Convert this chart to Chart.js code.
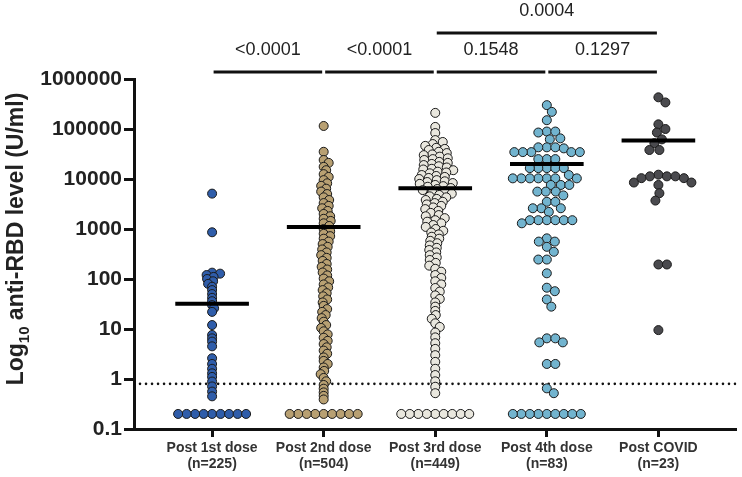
<!DOCTYPE html>
<html>
<head>
<meta charset="utf-8">
<title>anti-RBD levels</title>
<style>
  html, body { margin: 0; padding: 0; background: #fff; }
</style>
</head>
<body>
<canvas id="myChart" width="742" height="477"></canvas>
<script src="https://cdn.jsdelivr.net/npm/chart.js"></script>
<script>
const categories = ['Post 1st dose', 'Post 2nd dose', 'Post 3rd dose', 'Post 4th dose', 'Post COVID'];
const counts = [225, 504, 449, 83, 23];

// values (U/ml); 0.2 = below detection row
const firstDose = [5100, 860, 134, 128, 120, 110, 100, 90, 80, 70, 60, 50, 42, 36, 30, 26, 22,
  12, 7.6, 6.5, 5.6, 4.5, 2.6, 2.0, 1.6, 1.3, 1.1, 0.89, 0.71, 0.56, 0.45,
  0.2, 0.2, 0.2, 0.2, 0.2, 0.2, 0.2, 0.2, 0.2];
const secondDose = [115000, 35000, 24000, 21000, 17500, 15000, 12500, 11000, 9500, 8200, 7300, 6400,
  5600, 5000, 4300, 3800, 3300, 2900, 2600, 2300, 2000, 1800, 1600, 1450, 1300, 1150, 1000, 900,
  800, 720, 640, 560, 500, 440, 390, 340, 300, 265, 230, 200, 175, 155, 135, 118, 102, 90, 78,
  68, 60, 52, 45, 39, 34, 29, 25, 22, 19, 16.5, 14, 12, 10.5, 9, 7.8, 6.7, 5.8, 5, 4.3, 3.7,
  3.2, 2.7, 2.3, 2.0, 1.7, 1.45, 1.25, 1.05, 0.9, 0.76, 0.64, 0.54, 0.46, 0.39,
  0.2, 0.2, 0.2, 0.2, 0.2, 0.2, 0.2, 0.2, 0.2];
const thirdDose = [210000, 110000, 83000, 60000, 55000, 50000, 46000, 42000, 40000, 38000, 35000,
  33000, 31000, 30000, 28000, 26000, 25000, 24000, 22000, 21000, 20000, 19000, 18000, 17000,
  16000, 15500, 15000, 14000, 13500, 13000, 12000, 11500, 11000, 10500, 10000, 9500, 9000, 8700,
  8300, 8000, 7600, 7200, 7000, 6600, 6300, 6000, 5700, 5400, 5100, 4800, 4500, 4300, 4000,
  3800, 3500, 3300, 3100, 2900, 2700, 2500, 2300, 2100, 1900, 1800, 1650, 1500, 1400, 1300,
  1200, 1100, 1000, 920, 850, 780, 700, 640, 580, 520, 470, 420, 380, 340, 300, 270, 240, 210,
  185, 160, 140, 120, 105, 90, 78, 66, 56, 47, 40, 34, 28, 23, 19, 16, 13, 11, 8.5, 6.8, 5.2,
  4.0, 3.0, 2.2, 1.6, 1.2, 0.9, 0.7, 0.52,
  0.2, 0.2, 0.2, 0.2, 0.2, 0.2, 0.2, 0.2, 0.2];
const fourthDose = [300000, 220000, 150000, 89000, 89000, 85000, 65000, 62000,
  43000, 43000, 43000, 41000, 34500, 34500, 34500, 34500, 34500, 25000, 25000, 25000,
  16500, 16500, 16500, 16500, 16500, 12000, 10300, 10300, 10300, 10300, 10300, 10300, 10300,
  7600, 7600, 7600, 5600, 5600, 5600, 4700, 3500, 3500, 2600, 2600, 2600, 2200,
  1500, 1500, 1500, 1500, 1500, 1500, 1300, 650, 560, 560, 440, 350, 245, 245, 130,
  67, 57, 39, 28, 6.5, 6.5, 5.4, 5.4, 2.0, 2.0, 0.65, 0.52,
  0.2, 0.2, 0.2, 0.2, 0.2, 0.2, 0.2, 0.2, 0.2];
const postCovid = [430000, 340000, 124000, 100000, 85000, 62000, 52000, 38000, 38000,
  12200, 11300, 11300, 11300, 10400, 10400, 8500, 8500, 7600, 5200, 3700, 195, 195, 9.5];

const geoMeans = [32, 1100, 6500, 20000, 59000];
const cutoff = 0.8;

const yTicks = [0.1, 1, 10, 100, 1000, 10000, 100000, 1000000];
const yTickLabels = ['0.1', '1', '10', '100', '1000', '10000', '100000', '1000000'];

const pFrom = [0, 1, 2, 3, 2];
const pTo = [1, 2, 3, 4, 4];
const pLabels = ['<0.0001', '<0.0001', '0.1548', '0.1297', '0.0004'];

const fills = ['#2f5daa', '#b8a072', '#e9e7de', '#72b4cf', '#4a4a4e'];
const groups = [firstDose, secondDose, thirdDose, fourthDose, postCovid];
const squeeze = [2.6, 2.4, 2, 1, 1]; // dense columns are allowed to overlap vertically

const xMin = -0.7, xMax = 4.7;

Chart.defaults.font.family = "'Liberation Sans', Arial, sans-serif";

const datasets = groups.map((vals, g) => ({
    type: 'scatter',
    data: vals.map(v => ({x: g, y: v})),
    backgroundColor: fills[g],
    borderColor: '#1a1a1a',
    borderWidth: 1,
    pointRadius: 4.5,
    order: 1
}));

const meanData = [];
geoMeans.forEach((m, g) => {
    meanData.push({x: g - 0.33, y: m}, {x: g + 0.33, y: m}, {x: g + 0.5, y: null});
});
datasets.push({
    type: 'line',
    data: meanData,
    borderColor: '#000',
    borderWidth: 4,
    pointRadius: 0,
    spanGaps: false,
    order: 0
});
datasets.push({
    type: 'line',
    data: [{x: xMin, y: cutoff}, {x: xMax, y: cutoff}],
    borderColor: '#111',
    borderWidth: 2.6,
    borderDash: [0.01, 6],
    borderCapStyle: 'round',
    pointRadius: 0,
    order: 2
});

const brackets = {
    id: 'brackets',
    afterDraw(chart) {
        const ctx = chart.ctx, xs = chart.scales.x;
        ctx.save();
        ctx.strokeStyle = '#111';
        ctx.lineWidth = 3;
        ctx.fillStyle = '#222';
        ctx.font = "18px 'Liberation Sans', Arial, sans-serif";
        ctx.textAlign = 'center';
        ctx.textBaseline = 'middle';
        pLabels.forEach((lab, i) => {
            const x1 = xs.getPixelForValue(pFrom[i]) + 1.5;
            const x2 = xs.getPixelForValue(pTo[i]) - 1.5;
            const y = (pTo[i] - pFrom[i] > 1) ? 33 : 72;
            ctx.beginPath();
            ctx.moveTo(x1, y);
            ctx.lineTo(x2, y);
            ctx.stroke();
            ctx.fillText(lab, (x1 + x2) / 2, y - 22);
        });
        ctx.restore();
    }
};

const yTitle = {
    id: 'yTitle',
    afterDraw(chart) {
        const ctx = chart.ctx;
        const big = "bold 23px 'Liberation Sans', Arial, sans-serif";
        const small = "bold 15px 'Liberation Sans', Arial, sans-serif";
        const parts = [['Log', big, 0], ['10', small, 6], [' anti-RBD level (U/ml)', big, 0]];
        ctx.save();
        ctx.translate(23, 239);
        ctx.rotate(-Math.PI / 2);
        ctx.fillStyle = '#222';
        ctx.textBaseline = 'alphabetic';
        let total = 0;
        parts.forEach(p => { ctx.font = p[1]; total += ctx.measureText(p[0]).width; });
        let x = -total / 2;
        parts.forEach(p => {
            ctx.font = p[1];
            ctx.fillText(p[0], x, p[2]);
            x += ctx.measureText(p[0]).width;
        });
        ctx.restore();
    }
};

function swarm(chart) {
    const xs = chart.scales.x, ys = chart.scales.y;
    const unit = xs.getPixelForValue(1) - xs.getPixelForValue(0);
    const D = 8.3, cap = 34;
    groups.forEach((vals, g) => {
        const k = squeeze[g];
        const placed = [];
        const sorted = vals.slice().sort((a, b) => b - a);
        chart.data.datasets[g].data = sorted.map(v => {
            const py = ys.getPixelForValue(v);
            let best = 0, bestScore = -1;
            for (let i = 0; i <= cap * 4; i++) {
                const off = (i % 2 ? 1 : -1) * Math.ceil(i / 2) * 0.5;
                let minD = Infinity;
                for (const p of placed) {
                    const dy = (p.py - py) * k;
                    if (Math.abs(dy) >= D) continue;
                    minD = Math.min(minD, Math.hypot(p.off - off, dy));
                }
                if (minD >= D) { best = off; break; }
                if (minD > bestScore) { bestScore = minD; best = off; }
            }
            placed.push({py: py, off: best});
            return {x: g + best / unit, y: v};
        });
    });
    chart.update('none');
}

const myChart = new Chart(document.getElementById('myChart'), {
    type: 'scatter',
    data: {datasets: datasets},
    options: {
        responsive: false,
        animation: false,
        layout: {padding: {top: 79, right: 0, left: 0, bottom: 0}},
        plugins: {legend: {display: false}, tooltip: {enabled: false}},
        scales: {
            x: {
                type: 'linear',
                min: xMin,
                max: xMax,
                afterBuildTicks: s => { s.ticks = categories.map((c, i) => ({value: i})); },
                afterFit: s => { s.height = 48; },
                ticks: {
                    callback: v => [categories[v], '(n=' + counts[v] + ')'],
                    color: '#333',
                    font: {size: 14, weight: 'bold', lineHeight: 1.15},
                    padding: 3,
                    maxRotation: 0,
                    autoSkip: false
                },
                grid: {drawOnChartArea: false, drawTicks: true, tickLength: 8, tickWidth: 3, tickColor: '#111'},
                border: {display: true, width: 3, color: '#111'}
            },
            y: {
                type: 'logarithmic',
                min: 0.1,
                max: 1000000,
                afterBuildTicks: s => { s.ticks = yTicks.map(v => ({value: v})); },
                afterFit: s => { s.width = 134; },
                ticks: {
                    callback: (v, i) => yTickLabels[i],
                    color: '#222',
                    font: {size: 21, weight: 'bold'},
                    padding: 2
                },
                grid: {drawOnChartArea: false, drawTicks: true, tickLength: 10, tickWidth: 3, tickColor: '#111'},
                border: {display: true, width: 3, color: '#111'}
            }
        }
    },
    plugins: [brackets, yTitle]
});

swarm(myChart);
</script>
</body>
</html>
